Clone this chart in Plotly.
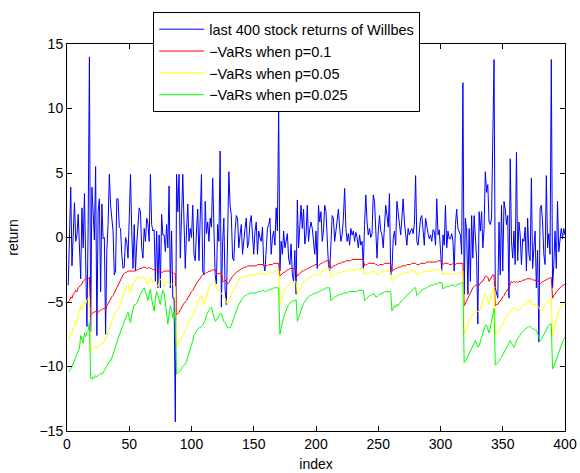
import plotly.graph_objects as go

# Daily returns (last 400 observations) and the negated Value-at-Risk estimates
returns = [
    -3.7, 0.5, 3.9, -2.2, 0.8, 2.7, -0.3, 0.2, 1.8, -1.0,
    -3.2, 2.3, -0.8, 3.4, -2.0, -6.9, 1.0, 14.0, -7.3, 3.9,
    2.0, -0.2, 5.5, -7.6, 2.0, 3.0, -4.2, 2.6, -0.1, 0.0,
    -7.5, -1.0, 1.0, 4.9, 2.5, 1.2, 0.5, -2.9, -2.6, 3.0,
    3.0, 0.8, 0.7, -1.3, -2.4, -2.3, 0.0, -0.3, -1.6, 1.5,
    4.9, 0.5, -2.4, 1.0, -2.6, -0.5, 1.0, 2.3, 2.0, -0.8,
    -1.6, 0.7, -0.3, 1.5, 1.1, -0.3, 4.9, 1.0, 0.5, 0.6,
    -3.4, 0.5, -3.9, 0.2, -3.9, 1.8, 0.2, 0.2, -1.1, 1.0,
    -0.8, 4.0, -3.9, 0.5, -4.7, -4.7, -14.3, 4.9, 2.0, 4.9,
    -1.6, 1.0, 4.9, 1.2, -2.4, 0.5, 2.6, -0.3, 0.7, 0.0,
    2.5, -1.3, -1.8, 0.5, 2.2, -1.8, 1.0, 4.9, -2.6, -2.9,
    2.8, 0.3, 1.2, -0.3, 1.5, 0.8, 4.6, 0.7, -2.9, -3.6,
    1.0, -0.3, 6.7, -5.4, -0.3, 1.5, -4.1, -5.2, -0.3, 5.1,
    2.5, 1.7, -1.6, -1.8, 0.5, 1.7, 1.5, -0.8, 0.2, 1.0,
    -1.3, -0.1, 0.7, 1.5, -0.8, -0.3, 1.2, 1.7, 0.4, -1.3,
    0.5, 1.2, -1.3, 0.5, 0.0, -0.3, 0.8, -2.1, -2.6, -0.3,
    0.7, 1.0, 1.5, -1.3, 0.0, 0.5, -0.6, 2.3, 0.5, 10.0,
    -2.6, -0.3, -1.3, 0.5, -0.8, -0.3, 0.3, -1.6, -2.1, -0.5,
    -2.9, -3.4, -1.0, -4.4, 2.9, -0.8, 0.5, 2.5, 0.7, 2.2,
    -0.5, 0.2, 2.5, -0.3, 0.7, 1.2, 0.7, -0.3, -1.3, 0.5,
    -2.4, 2.5, 1.2, 2.0, -0.3, 0.5, 2.5, 2.0, 0.2, -2.1,
    -2.6, 0.2, 1.7, 1.5, -0.3, 0.5, 1.7, 2.2, 0.7, -0.3,
    0.2, 1.5, 3.8, 0.7, -0.3, 0.3, -0.6, 0.7, 0.2, 0.5,
    -0.3, 0.4, 0.0, -0.8, 0.2, -0.6, -0.3, -2.4, 1.0, 3.3,
    1.2, 0.2, 0.7, 0.0, 0.3, 3.3, 2.8, 0.5, -1.6, 0.5,
    1.7, 0.5, 0.2, -0.8, 0.5, 2.5, 1.7, 0.8, 3.4, -2.9,
    -2.6, -0.1, 0.5, -0.6, 2.8, 2.0, 0.8, 0.2, 1.5, 3.0,
    1.2, 0.5, -0.6, 0.7, 0.2, 0.5, 0.7, 0.3, 1.0, 4.8,
    -0.3, -0.6, 0.5, 1.5, 1.7, 0.3, -0.6, 1.5, 0.7, 0.3,
    -0.1, 0.2, -0.3, 0.6, 0.5, -0.6, 3.0, 0.2, 0.6, -1.3,
    -2.6, 0.2, -0.6, 2.5, -0.8, 0.5, -0.1, -0.1, 0.3, -0.3,
    -2.6, 1.0, 2.2, 0.7, 0.5, 0.2, -1.3, 12.0, -4.4, 1.5,
    0.5, -4.4, 0.7, -3.4, 1.7, -1.6, 1.7, -0.3, -1.6, -6.7,
    2.0, 0.5, 2.0, -0.8, 0.7, 5.1, 3.5, 4.1, 1.2, 1.0,
    1.5, 7.6, 13.8, -3.9, -4.4, -4.7, 1.2, -2.9, 2.5, -2.6,
    2.8, 2.2, 1.0, 1.7, -4.7, 6.1, -0.3, -1.6, 0.5, -2.1,
    6.6, -1.8, 1.2, 0.2, -2.1, -0.1, -0.3, 0.8, -2.6, 1.5,
    -1.3, -1.8, 4.6, -2.4, -0.8, 0.5, -3.9, -1.0, -8.1, 2.2,
    2.5, 1.2, -1.3, -2.1, 4.8, -0.8, 0.3, -1.3, 13.8, -3.9,
    -2.1, 0.5, -2.4, 2.8, -1.1, -0.1, 0.7, -0.1, 0.7, 0.2,
]

var_p10 = [
    -5.0, -4.9, -4.6, -4.7, -4.4, -4.3, -4.1, -4.2, -3.9, -3.8,
    -3.7, -3.6, -3.4, -3.3, -3.2, -3.1, -3.2, -3.1, -6.0, -5.9,
    -5.8, -5.8, -5.7, -5.9, -5.8, -5.7, -5.6, -5.6, -5.5, -5.5,
    -5.6, -5.3, -5.1, -5.0, -4.8, -4.6, -4.5, -4.3, -4.1, -3.8,
    -3.6, -3.4, -3.2, -3.1, -2.9, -2.8, -2.7, -2.7, -2.6, -2.6,
    -2.6, -2.6, -2.6, -2.6, -2.6, -2.5, -2.5, -2.4, -2.4, -2.4,
    -2.3, -2.3, -2.3, -2.4, -2.4, -2.3, -2.4, -2.4, -2.5, -2.5,
    -2.5, -2.6, -2.6, -2.7, -2.6, -2.7, -2.7, -2.6, -2.6, -2.6,
    -2.6, -2.6, -2.6, -2.7, -2.7, -2.8, -2.8, -6.0, -5.9, -5.8,
    -5.6, -5.4, -5.3, -5.1, -5.0, -4.9, -4.7, -4.5, -4.4, -4.2,
    -4.1, -3.9, -3.7, -3.5, -3.4, -3.3, -3.1, -3.0, -2.9, -2.8,
    -2.8, -2.7, -2.7, -2.6, -2.6, -2.6, -2.5, -2.5, -2.5, -2.7,
    -2.8, -2.8, -2.8, -2.7, -3.4, -3.4, -3.3, -3.4, -3.6, -3.5,
    -3.3, -3.1, -3.0, -2.9, -2.8, -2.7, -2.6, -2.6, -2.5, -2.4,
    -2.4, -2.3, -2.3, -2.3, -2.2, -2.2, -2.2, -2.2, -2.2, -2.2,
    -2.2, -2.2, -2.1, -2.1, -2.1, -2.1, -2.1, -2.1, -2.2, -2.2,
    -2.2, -2.1, -2.1, -2.1, -2.1, -2.0, -2.0, -2.0, -2.0, -2.0,
    -3.0, -2.9, -2.8, -2.7, -2.7, -2.6, -2.5, -2.5, -2.4, -2.4,
    -2.4, -2.4, -2.5, -2.5, -3.0, -2.9, -2.8, -2.7, -2.6, -2.6,
    -2.5, -2.5, -2.4, -2.4, -2.3, -2.3, -2.2, -2.2, -2.1, -2.1,
    -2.1, -2.2, -2.1, -2.0, -2.0, -1.9, -1.9, -1.8, -1.8, -1.8,
    -1.8, -2.4, -2.3, -2.2, -2.2, -2.1, -2.1, -2.0, -2.0, -2.0,
    -1.9, -1.9, -1.9, -1.8, -1.8, -1.8, -1.8, -1.8, -1.7, -1.7,
    -1.7, -1.7, -1.7, -1.7, -1.7, -1.7, -1.7, -1.7, -2.2, -2.1,
    -2.1, -2.0, -2.0, -2.0, -2.0, -2.0, -2.0, -2.1, -2.1, -2.2,
    -2.1, -2.1, -2.1, -2.1, -2.0, -2.0, -2.0, -2.0, -2.0, -2.0,
    -2.6, -2.5, -2.5, -2.4, -2.4, -2.3, -2.3, -2.3, -2.2, -2.2,
    -2.2, -2.2, -2.1, -2.1, -2.1, -2.1, -2.0, -2.0, -2.0, -2.0,
    -2.1, -2.1, -2.1, -2.0, -2.0, -2.0, -2.0, -2.0, -1.9, -1.9,
    -1.9, -1.9, -1.9, -1.9, -1.9, -1.9, -1.9, -1.8, -1.8, -1.8,
    -1.9, -2.1, -2.0, -2.0, -2.0, -2.0, -2.1, -2.1, -2.1, -2.0,
    -2.0, -2.1, -2.0, -2.0, -2.0, -2.0, -2.0, -2.0, -5.3, -5.1,
    -4.9, -4.7, -4.4, -4.2, -4.0, -3.9, -3.8, -3.7, -3.7, -3.6,
    -3.7, -3.5, -3.4, -3.4, -3.2, -3.0, -3.0, -3.1, -3.4, -3.2,
    -3.0, -2.9, -2.9, -5.3, -5.2, -5.2, -5.0, -4.9, -4.8, -4.6,
    -4.5, -4.3, -4.2, -4.0, -3.9, -3.6, -3.4, -3.5, -3.4, -3.5,
    -3.4, -3.5, -3.4, -3.4, -3.4, -3.3, -3.3, -3.3, -3.2, -3.2,
    -3.2, -3.2, -3.2, -3.3, -3.3, -3.3, -3.4, -3.4, -3.4, -3.6,
    -3.5, -3.4, -3.4, -3.3, -3.3, -3.2, -3.2, -3.1, -3.1, -4.7,
    -4.5, -4.4, -4.2, -4.1, -4.0, -3.9, -3.8, -3.7, -3.7, -3.6,
]

var_p05 = [
    -7.9, -7.7, -7.4, -7.5, -7.0, -6.9, -6.5, -6.6, -6.0, -5.8,
    -5.3, -5.6, -5.4, -5.0, -5.2, -4.8, -4.7, -4.7, -8.8, -8.7,
    -8.6, -8.6, -8.4, -8.6, -8.5, -8.4, -8.3, -8.2, -8.2, -8.0,
    -7.9, -7.6, -7.3, -7.0, -6.8, -6.5, -6.3, -6.0, -5.8, -5.6,
    -5.5, -5.3, -5.2, -4.8, -4.5, -4.2, -3.9, -3.7, -3.6, -4.0,
    -4.3, -3.9, -3.6, -3.5, -3.3, -3.1, -3.0, -3.1, -3.2, -3.1,
    -3.1, -3.1, -3.2, -3.6, -3.6, -3.3, -3.1, -3.2, -3.4, -3.3,
    -3.5, -3.7, -3.8, -3.5, -3.2, -3.3, -3.6, -3.8, -3.5, -3.4,
    -3.4, -3.5, -3.7, -3.6, -3.6, -3.7, -3.8, -8.4, -8.3, -8.1,
    -8.0, -7.8, -7.6, -7.4, -7.3, -7.1, -6.9, -6.7, -6.5, -6.3,
    -6.1, -5.9, -5.6, -5.3, -5.0, -4.8, -4.6, -4.5, -4.9, -5.2,
    -4.9, -4.5, -4.2, -3.9, -3.7, -3.6, -3.5, -3.4, -3.6, -3.9,
    -4.0, -4.1, -4.2, -4.3, -4.5, -4.6, -4.7, -5.0, -5.2, -4.9,
    -4.6, -4.4, -4.2, -4.0, -3.8, -3.6, -3.4, -3.3, -3.2, -3.1,
    -3.1, -3.0, -3.0, -3.0, -3.0, -2.9, -2.9, -2.9, -2.9, -2.9,
    -2.9, -2.9, -2.8, -2.8, -2.8, -2.8, -2.8, -2.8, -2.9, -2.9,
    -2.8, -2.8, -2.7, -2.7, -2.7, -2.7, -2.6, -2.6, -2.6, -2.6,
    -5.2, -4.9, -4.6, -4.4, -4.1, -3.9, -3.8, -3.7, -3.6, -3.5,
    -3.5, -3.4, -3.4, -3.4, -4.4, -4.2, -4.0, -3.8, -3.6, -3.5,
    -3.4, -3.3, -3.2, -3.1, -3.1, -3.0, -3.0, -2.9, -2.9, -2.9,
    -2.9, -2.9, -2.8, -2.7, -2.6, -2.6, -2.5, -2.5, -2.4, -2.4,
    -2.4, -3.1, -3.0, -2.9, -2.9, -2.8, -2.8, -2.7, -2.7, -2.7,
    -2.7, -2.6, -2.6, -2.6, -2.6, -2.6, -2.6, -2.5, -2.5, -2.5,
    -2.5, -2.5, -2.5, -2.4, -2.4, -2.4, -2.4, -2.4, -2.9, -2.8,
    -2.8, -2.7, -2.7, -2.7, -2.6, -2.6, -2.6, -2.7, -2.9, -2.9,
    -2.8, -2.7, -2.7, -2.6, -2.6, -2.6, -2.6, -2.6, -2.6, -2.7,
    -3.4, -3.3, -3.2, -3.1, -3.0, -3.0, -2.9, -2.9, -2.8, -2.8,
    -2.8, -2.7, -2.7, -2.7, -2.7, -2.6, -2.6, -2.6, -2.6, -2.6,
    -2.9, -2.8, -2.8, -2.7, -2.7, -2.7, -2.6, -2.6, -2.6, -2.6,
    -2.6, -2.6, -2.5, -2.5, -2.5, -2.5, -2.5, -2.4, -2.5, -2.5,
    -2.5, -2.9, -2.8, -2.8, -2.8, -2.8, -2.8, -2.8, -2.9, -2.8,
    -2.8, -2.9, -2.8, -2.8, -2.7, -2.7, -2.7, -2.6, -7.5, -7.3,
    -7.0, -6.8, -6.5, -6.3, -6.1, -5.9, -5.9, -5.8, -5.8, -5.7,
    -5.8, -5.5, -5.2, -4.9, -4.6, -4.4, -4.6, -4.9, -5.2, -4.9,
    -4.5, -4.2, -3.8, -7.5, -7.4, -7.4, -7.2, -7.0, -6.8, -6.6,
    -6.4, -6.3, -6.2, -6.0, -5.9, -5.8, -5.6, -5.5, -5.4, -5.4,
    -5.6, -5.7, -5.6, -5.5, -5.4, -5.3, -5.2, -5.2, -5.1, -5.0,
    -4.9, -4.8, -5.2, -5.2, -5.2, -5.2, -5.2, -5.3, -5.4, -5.6,
    -5.7, -5.5, -5.3, -5.2, -5.1, -5.0, -4.9, -4.8, -4.7, -7.6,
    -7.2, -6.8, -6.4, -6.0, -5.7, -5.5, -5.3, -5.1, -5.0, -4.9,
]

var_p025 = [
    -10.4, -10.3, -10.2, -10.0, -9.8, -9.6, -9.3, -9.0, -8.8, -8.6,
    -7.6, -8.0, -8.2, -7.4, -7.7, -7.3, -7.2, -6.6, -10.9, -11.0,
    -10.8, -10.9, -10.7, -10.8, -10.7, -10.6, -10.5, -10.6, -10.5, -10.3,
    -10.1, -9.9, -9.8, -9.6, -9.6, -9.3, -9.0, -8.8, -8.5, -8.1,
    -7.8, -7.5, -7.2, -7.0, -6.8, -6.5, -6.3, -6.0, -5.8, -6.2,
    -6.6, -6.0, -5.5, -5.2, -5.2, -5.1, -4.9, -4.6, -4.4, -4.2,
    -4.0, -3.9, -4.2, -4.6, -4.9, -4.4, -4.0, -4.8, -5.3, -5.7,
    -4.8, -4.2, -4.5, -5.0, -5.2, -4.5, -4.1, -4.3, -5.0, -5.8,
    -6.7, -6.0, -5.3, -5.6, -6.2, -5.8, -6.4, -10.6, -10.5, -10.4,
    -10.3, -10.2, -10.0, -9.9, -9.8, -9.6, -9.3, -9.0, -8.7, -8.3,
    -8.0, -7.6, -7.4, -7.2, -7.1, -7.0, -7.0, -6.9, -6.8, -6.6,
    -6.4, -6.0, -5.8, -5.6, -5.5, -5.4, -5.8, -6.3, -6.5, -6.4,
    -6.2, -6.0, -5.9, -5.9, -6.2, -6.5, -6.6, -6.8, -7.0, -7.0,
    -7.0, -6.8, -6.5, -6.2, -5.9, -5.6, -5.4, -5.2, -5.0, -4.8,
    -4.7, -4.6, -4.5, -4.5, -4.4, -4.4, -4.3, -4.3, -4.3, -4.3,
    -4.3, -4.3, -4.2, -4.2, -4.2, -4.2, -4.1, -4.1, -4.2, -4.2,
    -4.1, -4.1, -4.0, -4.0, -4.0, -3.9, -3.9, -3.9, -3.9, -3.9,
    -7.5, -7.0, -6.6, -6.2, -5.9, -5.6, -5.4, -5.2, -5.1, -5.0,
    -4.9, -4.9, -4.9, -4.8, -6.5, -6.2, -5.9, -5.6, -5.3, -5.1,
    -5.0, -4.8, -4.7, -4.6, -4.5, -4.5, -4.4, -4.4, -4.3, -4.3,
    -4.3, -4.2, -4.2, -4.1, -4.1, -4.0, -4.0, -3.9, -3.9, -3.9,
    -3.9, -4.9, -4.8, -4.7, -4.6, -4.6, -4.5, -4.5, -4.4, -4.4,
    -4.4, -4.3, -4.3, -4.3, -4.3, -4.2, -4.2, -4.2, -4.2, -4.2,
    -4.2, -4.2, -4.2, -4.1, -4.1, -4.1, -4.1, -4.1, -4.9, -4.8,
    -4.7, -4.6, -4.5, -4.5, -4.4, -4.4, -4.4, -4.6, -4.6, -4.5,
    -4.4, -4.4, -4.3, -4.3, -4.2, -4.2, -4.2, -4.2, -4.2, -4.2,
    -5.7, -5.5, -5.3, -5.4, -5.2, -5.3, -5.1, -5.0, -4.9, -4.8,
    -4.7, -4.6, -4.5, -4.4, -4.3, -4.2, -4.1, -4.0, -3.9, -3.9,
    -4.5, -4.4, -4.3, -4.2, -4.1, -4.0, -4.0, -3.9, -3.9, -3.8,
    -3.8, -3.7, -3.7, -3.7, -3.6, -3.6, -3.6, -3.5, -3.5, -3.5,
    -3.5, -4.0, -3.9, -3.9, -3.8, -3.8, -3.8, -3.7, -3.7, -3.7,
    -3.7, -3.8, -3.7, -3.6, -3.6, -3.6, -3.5, -3.5, -9.7, -9.6,
    -9.4, -9.2, -9.0, -8.8, -8.6, -8.4, -8.1, -8.0, -8.2, -8.5,
    -8.4, -8.1, -7.8, -7.5, -7.2, -6.8, -6.8, -7.1, -7.4, -7.0,
    -6.5, -5.9, -5.5, -9.9, -9.8, -9.7, -9.6, -9.4, -9.3, -9.1,
    -8.9, -8.7, -8.5, -8.3, -8.1, -8.0, -8.2, -8.4, -8.5, -8.3,
    -8.0, -7.8, -7.7, -7.5, -7.4, -7.3, -7.2, -7.1, -7.0, -7.0,
    -6.9, -6.9, -7.0, -7.1, -7.1, -7.2, -7.2, -7.4, -7.7, -8.0,
    -7.9, -7.7, -7.5, -7.3, -7.1, -6.9, -6.8, -6.7, -6.7, -10.2,
    -10.0, -9.8, -9.5, -9.2, -8.9, -8.6, -8.3, -8.1, -7.9, -7.7,
]

index = list(range(1, len(returns) + 1))

series_names = [
    "last 400 stock returns of Willbes",
    "\u2212VaRs when p=0.1",
    "\u2212VaRs when p=0.05",
    "\u2212VaRs when p=0.025",
]
series_colors = ["#0000FF", "#FF0000", "#FFFF00", "#00FF00"]
x_ticks = [0, 50, 100, 150, 200, 250, 300, 350, 400]
y_ticks = [-15, -10, -5, 0, 5, 10, 15]

FONT = "Liberation Sans, Arial, Helvetica, sans-serif"

fig = go.Figure()
for name, values, color in zip(series_names, [returns, var_p10, var_p05, var_p025], series_colors):
    fig.add_trace(go.Scatter(
        x=index, y=values, mode="lines", name=name,
        line=dict(color=color, width=1),
        hoverinfo="skip",
    ))

axis_common = dict(
    showgrid=False, zeroline=False, automargin=False,
    showline=True, linecolor="black", linewidth=1, mirror="ticks",
    ticks="inside", ticklen=5, tickwidth=1, tickcolor="black",
    tickfont=dict(family=FONT, size=14, color="black"),
)

fig.update_layout(
    width=580, height=473,
    margin=dict(l=67, r=15, t=41, b=42),
    paper_bgcolor="white", plot_bgcolor="white",
    font=dict(family=FONT, size=14, color="black"),
    xaxis=dict(range=[0, 400], tickvals=x_ticks, **axis_common,
               title=dict(text="index", standoff=8,
                          font=dict(family=FONT, size=14, color="black"))),
    yaxis=dict(range=[-15, 15], tickvals=y_ticks, **axis_common,
               title=dict(text="return", standoff=17,
                          font=dict(family=FONT, size=14, color="black"))),
    legend=dict(
        x=0.173, y=1.082, xanchor="left", yanchor="top",
        bgcolor="white", bordercolor="black", borderwidth=1,
        font=dict(family=FONT, size=14.5, color="black"),
        itemwidth=45, tracegroupgap=0,
    ),
    showlegend=True,
)

fig.write_html("out.html")
